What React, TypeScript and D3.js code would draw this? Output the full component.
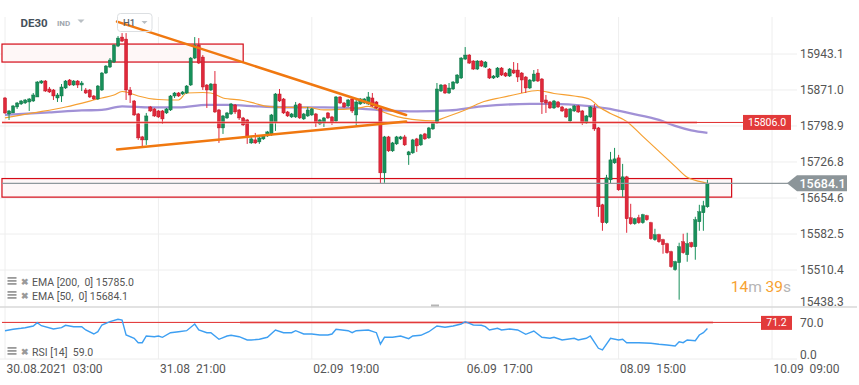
import React from 'react';
import * as d3 from 'd3';

const W = 859;
const H = 385;

// [open, high, low, close] per H1 candle
const candles: number[][] = [
  [15855,15857,15823,15825],[15823,15831,15811,15829],[15825,15841,15825,15839],[15837,15847,15833,15845],
  [15843,15851,15841,15849],[15845,15853,15843,15851],[15847,15855,15829,15853],[15849,15865,15847,15861],
  [15857,15889,15857,15887],[15885,15891,15883,15889],[15889,15891,15867,15869],[15873,15877,15865,15867],
  [15871,15873,15851,15859],[15855,15865,15847,15861],[15859,15883,15847,15877],[15875,15891,15873,15889],
  [15891,15893,15879,15881],[15881,15891,15879,15889],[15889,15891,15875,15881],[15881,15889,15869,15885],
  [15871,15875,15863,15865],[15871,15873,15855,15857],[15859,15861,15851,15853],[15853,15881,15851,15879],
  [15871,15907,15869,15905],[15905,15921,15903,15919],[15917,15935,15915,15931],[15927,15963,15925,15961],
  [15959,15979,15957,15975],[15977,15985,15967,15969],[15973,15985,15851,15871],[15871,15877,15845,15861],
  [15849,15851,15819,15821],[15823,15825,15771,15775],[15777,15779,15755,15771],[15771,15825,15761,15819],
  [15837,15839,15827,15829],[15833,15835,15817,15819],[15829,15831,15815,15817],[15829,15831,15803,15813],
  [15825,15835,15823,15833],[15831,15861,15829,15859],[15859,15867,15855,15865],[15865,15867,15857,15859],
  [15863,15869,15861,15867],[15865,15881,15863,15879],[15881,15937,15879,15935],[15935,15977,15933,15961],
  [15961,15975,15923,15925],[15937,15941,15871,15877],[15881,15883,15835,15871],[15871,15885,15869,15883],
  [15883,15909,15825,15827],[15831,15833,15765,15795],[15795,15821,15783,15819],[15815,15827,15813,15825],
  [15823,15845,15821,15843],[15841,15843,15823,15827],[15831,15833,15811,15815],[15815,15817,15799,15801],
  [15811,15813,15763,15777],[15765,15779,15763,15773],[15771,15785,15763,15765],[15767,15777,15763,15775],
  [15773,15781,15771,15779],[15779,15789,15777,15787],[15781,15823,15779,15821],[15807,15865,15789,15863],
  [15863,15873,15847,15849],[15853,15855,15823,15825],[15827,15829,15817,15819],[15817,15825,15815,15823],
  [15817,15847,15815,15841],[15843,15845,15813,15815],[15813,15825,15811,15823],[15819,15837,15817,15831],
  [15821,15835,15819,15833],[15823,15825,15797,15805],[15803,15813,15801,15811],[15805,15817,15797,15815],
  [15825,15827,15813,15815],[15817,15819,15801,15807],[15809,15859,15807,15857],[15857,15859,15843,15845],
  [15845,15847,15835,15837],[15839,15853,15837,15851],[15853,15855,15825,15829],[15821,15851,15801,15847],
  [15843,15855,15841,15853],[15845,15855,15843,15853],[15843,15867,15841,15857],[15855,15865,15837,15839],
  [15847,15849,15833,15835],[15835,15837,15683,15705],[15705,15779,15685,15777],[15777,15779,15747,15749],
  [15749,15767,15747,15765],[15763,15779,15761,15777],[15773,15779,15771,15777],[15777,15781,15759,15761],
  [15741,15749,15721,15747],[15745,15773,15743,15771],[15773,15775,15747,15759],[15761,15783,15759,15781],
  [15783,15785,15771,15773],[15775,15797,15773,15795],[15793,15807,15791,15805],[15805,15885,15803,15873],
  [15869,15883,15867,15881],[15881,15883,15863,15865],[15865,15885,15863,15875],[15873,15889,15871,15887],
  [15885,15903,15883,15901],[15895,15937,15893,15935],[15933,15957,15931,15941],[15941,15943,15923,15925],
  [15929,15931,15911,15913],[15913,15931,15911,15929],[15929,15931,15917,15919],[15917,15929,15915,15927],
  [15913,15915,15893,15895],[15895,15901,15893,15899],[15897,15917,15895,15915],[15915,15917,15899,15901],
  [15905,15907,15897,15899],[15899,15915,15897,15913],[15911,15927,15903,15905],[15911,15925,15887,15897],
  [15905,15907,15865,15891],[15897,15899,15865,15875],[15875,15893,15873,15891],[15889,15911,15887,15903],
  [15905,15913,15887,15889],[15893,15895,15823,15847],[15851,15861,15825,15845],[15847,15849,15833,15835],
  [15835,15851,15833,15849],[15847,15849,15835,15837],[15837,15839,15827,15829],[15833,15835,15815,15817],
  [15809,15835,15805,15833],[15829,15841,15827,15839],[15839,15841,15825,15827],[15829,15831,15801,15805],
  [15805,15821,15803,15819],[15817,15839,15815,15837],[15835,15843,15789,15793],[15795,15797,15617,15637],
  [15641,15643,15589,15605],[15605,15701,15603,15695],[15691,15747,15683,15731],[15725,15755,15723,15733],
  [15735,15741,15669,15671],[15671,15723,15657,15697],[15697,15699,15585,15613],[15615,15643,15601,15603],
  [15603,15615,15601,15613],[15615,15621,15603,15605],[15605,15623,15603,15621],[15619,15621,15609,15611],
  [15605,15607,15571,15573],[15571,15593,15569,15581],[15581,15583,15565,15567],[15571,15573,15543,15561],
  [15563,15565,15543,15545],[15547,15549,15515,15517],[15511,15529,15509,15527],[15525,15565,15451,15557],
  [15567,15583,15543,15545],[15541,15585,15527,15563],[15565,15567,15555,15557],[15557,15617,15531,15611],
  [15607,15641,15589,15627],[15625,15649,15589,15639],[15637,15691,15635,15684.1],
];

// [candle index, value]
const ema50 = [
  [0,15815],[7,15825],[15,15837],[24,15855],[27,15861],[29,15868],[30,15867],[33,15859],[38,15852],
  [43,15851],[45,15865],[49,15866],[51,15865],[54,15855],[59,15850],[62,15844],[65,15838],[69,15836],
  [75,15836],[79,15831],[83,15832],[87,15834],[90,15838],[94,15826],[98,15816],[102,15811],[106,15809],
  [110,15819],[114,15831],[118,15846],[123,15856],[127,15863],[132,15870],[136,15864],[141,15859],
  [145,15852],[147,15838],[150,15824],[154,15808],[158,15778],[162,15748],[166,15718],[169,15696],
  [172,15688],[174,15684.1],
];
const ema200 = [
  [0,15821],[11,15826],[19,15830],[24,15831],[29,15838],[36,15836],[43,15836],[50,15841],[55,15841],
  [63,15838],[71,15836],[79,15836],[87,15834],[94,15830],[102,15828],[110,15830],[118,15838],[130,15843],
  [136,15843],[144,15839],[149,15834],[155,15824],[162,15811],[166,15799],[170,15790],[174,15785],
];
const rsi = [
  [0,54.6],[2,57.4],[4,59.4],[5,60.6],[7,64],[8,70.6],[9,64.6],[12,58],[14,60.6],[15,65.4],[17,62.6],
  [19,62.6],[20,56],[22,48],[23,52.6],[24,66],[26,72.6],[28,77.4],[29,76],[30,46],[32,39.4],[33,30.6],
  [34,30.6],[35,44],[37,42.6],[38,44],[39,41.4],[41,50.6],[43,52.6],[45,54.6],[47,68],[48,56],[50,50.6],
  [51,50.6],[53,37.4],[55,44],[56,45.4],[58,42.6],[60,36],[61,36],[63,37.4],[65,41.4],[67,56],[69,50.6],
  [71,50.6],[72,54.6],[74,48],[76,48],[78,46],[80,46],[81,48],[82,57.4],[85,54.6],[86,50.6],[87,54.6],
  [90,56],[92,50.6],[93,28],[94,41.4],[96,41.4],[98,44],[100,38.6],[101,44],[103,45.4],[105,52.6],
  [107,64],[109,61.4],[111,64],[113,68],[114,72.6],[116,66],[118,65.4],[119,62.6],[120,56],[122,59.4],
  [123,56],[125,58],[127,56],[129,47.4],[131,54],[133,41.4],[135,39.4],[136,41.4],[138,36],[141,39.4],
  [142,36],[144,39.4],[145,44],[147,19.4],[148,16],[150,39.4],[152,36],[153,37.4],[154,30.6],[157,30.6],
  [160,29.4],[162,27.4],[164,26],[166,24],[167,32.6],[168,30.6],[169,36],[171,34.6],[172,46],[173,50.6],
  [174,59],
];

const priceTicks = [15943.1, 15871.0, 15798.9, 15726.8, 15654.6, 15582.5, 15510.4, 15438.3];
const rsiTicks = [70.0, 0.0];
const timeTicks = [0, 38, 76, 114, 152, 190];
const timeLabels = ['30.08.2021  03:00', '31.08  21:00', '02.09  19:00', '06.09  17:00', '08.09  15:00', '10.09  09:00'];

// drawn objects: trendlines [index, price], zones, levels
const downTrend = [[27.75, 16008], [99.36, 15821]];
const upTrend = [[27.75, 15752], [99.36, 15808]];
const topZone = { from: -0.75, to: 59, lo: 15927, hi: 15963 };
const lowZone = { from: -0.75, to: 180, lo: 15656.4, hi: 15693.6 };
const levelPrice = 15806.0;
const lastPrice = 15684.1;
const rsiLevel = 71.2;
const rsiLast = 59.0;

const GREEN = '#17905a';
const RED = '#e0283b';
const FONT = 'Roboto, sans-serif';

export default function App() {
  const x = d3.scaleLinear().domain([0, 190]).range([5, 772]);
  const y = d3.scaleLinear().domain([15438.3, 15943.1]).range([306, 54]);
  const ry = d3.scaleLinear().domain([0, 70]).range([358, 323]);

  const line = d3.line<number[]>().x(d => x(d[0])).y(d => y(d[1])).curve(d3.curveMonotoneX);
  const rsiLine = d3.line<number[]>().x(d => x(d[0])).y(d => ry(d[1]));

  const levelY = y(levelPrice);
  const lastY = y(lastPrice);
  const rsiY = ry(rsiLevel);

  return (
    <svg width={W} height={H} style={{ position: 'absolute', left: 0, top: 0, background: '#fff' }} fontFamily={FONT}>
      {/* grid */}
      {timeTicks.map(t => (
        <line key={'v' + t} x1={x(t)} x2={x(t)} y1={17} y2={359} stroke="#eeeeee" />
      ))}
      {priceTicks.slice(0, -1).map(p => (
        <line key={'h' + p} x1={0} x2={797} y1={y(p)} y2={y(p)} stroke="#eeeeee" />
      ))}
      <line x1={0} x2={857} y1={307} y2={307} stroke="#d8d8d8" strokeWidth={1.5} />
      <rect x={431} y={304.5} width={8} height={2} fill="#b5b5b5" />
      <line x1={0} x2={797} y1={359} y2={359} stroke="#ececec" />

      {/* zones */}
      <rect x={x(topZone.from)} width={x(topZone.to) - x(topZone.from)} y={y(topZone.hi)} height={y(topZone.lo) - y(topZone.hi)}
        fill="#fef7f7" stroke="#d40a16" strokeWidth={1.2} />
      <rect x={x(lowZone.from)} width={x(lowZone.to) - x(lowZone.from)} y={y(lowZone.hi)} height={y(lowZone.lo) - y(lowZone.hi)}
        fill="#fef7f7" stroke="#d40a16" strokeWidth={1.2} />

      {/* EMAs */}
      <path d={line(ema200) || ''} fill="none" stroke="#8a76cc" strokeOpacity={0.8} strokeWidth={2.3} />
      <path d={line(ema50) || ''} fill="none" stroke="#f6a032" strokeWidth={1.2} />

      {/* candles */}
      {candles.map((c, i) => {
        const [o, h, l, cl] = c;
        const up = cl >= o;
        const col = up ? GREEN : RED;
        const top = y(Math.max(o, cl));
        const bh = Math.max(1, y(Math.min(o, cl)) - top);
        const cx = x(i);
        return (
          <g key={i}>
            <line x1={cx} x2={cx} y1={y(h)} y2={y(l)} stroke={col} strokeWidth={1} />
            <rect x={cx - 1.6} y={top} width={3.2} height={bh} fill={col} stroke={up ? '#0d6b40' : '#b8121f'} strokeWidth={0.4} />
          </g>
        );
      })}

      {/* level line 15806 */}
      <line x1={x(-0.75)} x2={697} y1={levelY} y2={levelY} stroke="#f19a9a" strokeOpacity={0.55} strokeWidth={3} />
      <line x1={x(-0.75)} x2={743} y1={levelY} y2={levelY} stroke="#e02a2a" strokeWidth={1} />
      <rect x={743} y={levelY - 7.5} width={48} height={15} fill="#e23a3a" />
      <text x={767} y={levelY + 3.6} fontSize={10.5} fill="#fff" textAnchor="middle">{levelPrice.toFixed(1)}</text>

      {/* trendlines */}
      {[downTrend, upTrend].map((t, i) => (
        <line key={'t' + i} x1={x(t[0][0])} y1={y(t[0][1])} x2={x(t[1][0])} y2={y(t[1][1])}
          stroke="#f07810" strokeWidth={2.5} strokeLinecap="round" />
      ))}

      {/* current price */}
      <line x1={x(-0.75)} x2={788} y1={lastY} y2={lastY} stroke="#8f989c" strokeWidth={1.2} />
      <path d={`M787,${lastY} L797,${lastY - 8} L847,${lastY - 8} L847,${lastY + 8} L797,${lastY + 8} Z`} fill="#8c9599" />
      <text x={799.5} y={lastY + 4.3} fontSize={12.5} fontWeight={500} fill="#fff">{lastPrice.toFixed(1)}</text>

      {/* price axis */}
      {priceTicks.map(p => (
        <text key={'pt' + p} x={800} y={Math.min(y(p), 302) + 4} fontSize={12} fill="#555">{p.toFixed(1)}</text>
      ))}

      {/* RSI panel */}
      <line x1={240} x2={713} y1={rsiY} y2={rsiY} stroke="#f19a9a" strokeOpacity={0.55} strokeWidth={3} />
      <line x1={x(-0.75)} x2={761} y1={rsiY} y2={rsiY} stroke="#e02a2a" strokeWidth={1} />
      <path d={rsiLine(rsi) || ''} fill="none" stroke="#3d9ff2" strokeWidth={1.4} />
      <rect x={761} y={rsiY - 6.5} width={31} height={14} fill="#e23a3a" />
      <text x={776.5} y={rsiY + 3.6} fontSize={10.5} fill="#fff" textAnchor="middle">{rsiLevel.toFixed(1)}</text>
      {rsiTicks.map(v => (
        <text key={'rt' + v} x={800} y={Math.min(ry(v), 355) + 4} fontSize={12} fill="#555">{v.toFixed(1)}</text>
      ))}

      {/* time axis */}
      {timeTicks.map((t, i) => (
        <text key={'tt' + t} x={x(t) + 1.5} y={373} fontSize={12} fill="#555" style={{ whiteSpace: 'pre' }}>{timeLabels[i]}</text>
      ))}

      {/* legends */}
      {[
        { yy: 282, label: `EMA [200,  0] ${ema200[ema200.length - 1][1].toFixed(1)}` },
        { yy: 296, label: `EMA [50,  0] ${lastPrice.toFixed(1)}` },
        { yy: 352, label: `RSI [14]  ${rsiLast.toFixed(1)}` },
      ].map(lg => (
        <g key={lg.label}>
          <rect x={7.5} y={lg.yy - 5} width={9} height={1.8} fill="#9a9a9a" />
          <rect x={7.5} y={lg.yy - 2} width={9} height={1.8} fill="#9a9a9a" />
          <rect x={7.5} y={lg.yy + 1} width={9} height={1.8} fill="#9a9a9a" />
          <text x={20.5} y={lg.yy + 3.3} fontSize={9} fontWeight={700} fill="#9a9a9a">✖</text>
          <text x={32} y={lg.yy + 3.6} fontSize={10.5} fill="#555" style={{ whiteSpace: 'pre' }}>{lg.label}</text>
        </g>
      ))}

      {/* countdown */}
      <text x={791} y={292} fontSize={15.5} textAnchor="end">
        <tspan fill="#f7a231">14</tspan><tspan fill="#b5b5b5">m </tspan>
        <tspan fill="#f7a231">39</tspan><tspan fill="#b5b5b5">s</tspan>
      </text>

      {/* header */}
      <text x={20.5} y={27} fontSize={11.5} fontWeight={700} fill="#45505a">DE30</text>
      <text x={57} y={25.8} fontSize={8} fontWeight={700} fill="#a0a7ae">IND</text>
      <path d="M77.5,19.5 L84.5,19.5 L81,23 Z" fill="#b9bfc4" />
      <rect x={117.5} y={13.5} width={34.5} height={18} rx={3} fill="none" stroke="#dcdfe2" />
      <text x={123} y={25.5} fontSize={9.5} fontWeight={500} fill="#5a636b">H1</text>
      <path d="M141.5,21 L147.5,21 L144.5,24 Z" fill="#b9bfc4" />
    </svg>
  );
}
